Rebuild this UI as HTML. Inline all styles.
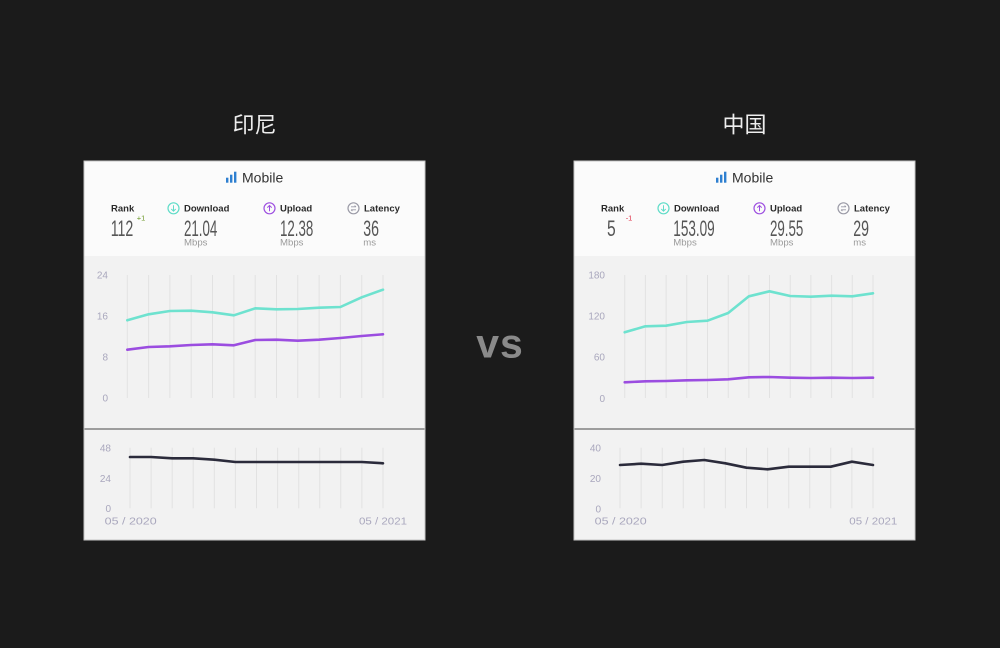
<!DOCTYPE html>
<html>
<head>
<meta charset="utf-8">
<style>
  html,body{margin:0;padding:0;background:#1b1b1b;}
  svg{display:block;}
  text{font-family:"Liberation Sans","Noto Sans CJK SC",sans-serif;}
</style>
</head>
<body>
<svg width="1000" height="648" viewBox="0 0 1000 648" xmlns="http://www.w3.org/2000/svg">
  <rect x="0" y="0" width="1000" height="648" fill="#1b1b1b"/>

  <!-- Titles -->
  <text x="254.5" y="132.5" font-size="22" fill="#eeeeee" text-anchor="middle" font-family="'Liberation Sans','Noto Sans CJK SC',sans-serif">印尼</text>
  <text x="744.5" y="132.5" font-size="22" fill="#eeeeee" text-anchor="middle" font-family="'Liberation Sans','Noto Sans CJK SC',sans-serif">中国</text>

  <!-- VS -->
  <text x="500" y="357.5" font-size="41" font-weight="bold" fill="#8a8a8a" text-anchor="middle" letter-spacing="1">vs</text>

  <!-- ================= LEFT CARD ================= -->
  <rect x="84" y="161" width="341" height="379" fill="#f2f2f2" stroke="#c4c4c4" stroke-width="1"/>
  <rect x="84.5" y="161.5" width="340" height="94.5" fill="#fbfbfb"/>
  <line x1="84.5" y1="429" x2="424.5" y2="429" stroke="#9d9d9d" stroke-width="2"/>

  <!-- header left -->
  <g id="hdrL">
    <rect x="226" y="177.7" width="2.4" height="5" fill="#2e7fd0"/>
    <rect x="230" y="174.7" width="2.4" height="8" fill="#2e7fd0"/>
    <rect x="234" y="171.7" width="2.4" height="11" fill="#2e7fd0"/>
    <text x="242" y="182.7" font-size="14" fill="#333">Mobile</text>

    <text x="111" y="211.7" font-size="9.5" font-weight="bold" fill="#2a2a2a">Rank</text>
    <circle cx="173.5" cy="208.3" r="5.5" fill="none" stroke="#5fdcc8" stroke-width="1.2"/>
    <path d="M173.5 205.3 V211 M171.3 209 L173.5 211.2 L175.7 209" fill="none" stroke="#5fdcc8" stroke-width="1"/>
    <text x="184" y="211.7" font-size="9.5" font-weight="bold" fill="#2a2a2a">Download</text>
    <circle cx="269.5" cy="208.3" r="5.5" fill="none" stroke="#9d4fe0" stroke-width="1.2"/>
    <path d="M269.5 211.3 V205.6 M267.3 207.6 L269.5 205.4 L271.7 207.6" fill="none" stroke="#9d4fe0" stroke-width="1"/>
    <text x="280" y="211.7" font-size="9.5" font-weight="bold" fill="#2a2a2a">Upload</text>
    <circle cx="353.5" cy="208.3" r="5.5" fill="none" stroke="#9a9aa6" stroke-width="1.2"/>
    <path d="M351 206.8 H356 M354.6 205.6 L356 206.8 M356 209.8 H351 M352.4 211 L351 209.8" fill="none" stroke="#9a9aa6" stroke-width="0.9"/>
    <text x="364" y="211.7" font-size="9.5" font-weight="bold" fill="#2a2a2a">Latency</text>
  </g>
  <text x="110.7" y="236" font-size="22" fill="#555" textLength="22.6" lengthAdjust="spacingAndGlyphs">112</text>
  <text x="136.7" y="220.5" font-size="7.5" fill="#6f9a2c">+1</text>
  <text x="184" y="236" font-size="22" fill="#555" textLength="33.3" lengthAdjust="spacingAndGlyphs">21.04</text>
  <text x="184" y="245.5" font-size="9.6" fill="#9a9a9a">Mbps</text>
  <text x="280" y="236" font-size="22" fill="#555" textLength="33.3" lengthAdjust="spacingAndGlyphs">12.38</text>
  <text x="280" y="245.5" font-size="9.6" fill="#9a9a9a">Mbps</text>
  <text x="363.3" y="236" font-size="22" fill="#555" textLength="15.7" lengthAdjust="spacingAndGlyphs">36</text>
  <text x="363.3" y="245.5" font-size="9.6" fill="#9a9a9a">ms</text>

  <!-- left upper chart grid -->
  <g stroke="#e2e2e2" stroke-width="1">
    <line x1="127.3" y1="275" x2="127.3" y2="398"/>
    <line x1="148.6" y1="275" x2="148.6" y2="398"/>
    <line x1="169.9" y1="275" x2="169.9" y2="398"/>
    <line x1="191.2" y1="275" x2="191.2" y2="398"/>
    <line x1="212.5" y1="275" x2="212.5" y2="398"/>
    <line x1="233.9" y1="275" x2="233.9" y2="398"/>
    <line x1="255.2" y1="275" x2="255.2" y2="398"/>
    <line x1="276.5" y1="275" x2="276.5" y2="398"/>
    <line x1="297.8" y1="275" x2="297.8" y2="398"/>
    <line x1="319.1" y1="275" x2="319.1" y2="398"/>
    <line x1="340.4" y1="275" x2="340.4" y2="398"/>
    <line x1="361.7" y1="275" x2="361.7" y2="398"/>
    <line x1="383" y1="275" x2="383" y2="398"/>
  </g>
  <g font-size="10" fill="#a9a7bd" text-anchor="end">
    <text x="108" y="278.6">24</text>
    <text x="108" y="319.6">16</text>
    <text x="108" y="360.6">8</text>
    <text x="108" y="401.6">0</text>
  </g>
  <polyline fill="none" stroke="#6ee2cf" stroke-width="2.6" stroke-linejoin="round" stroke-linecap="round"
    points="127.3,320.3 148.6,314.3 169.9,311 191.2,310.7 212.5,312.3 233.9,315.3 255.2,308.3 276.5,309.3 297.8,309 319.1,307.7 340.4,307 361.7,297.3 383,289.7"/>
  <polyline fill="none" stroke="#9b4de0" stroke-width="2.6" stroke-linejoin="round" stroke-linecap="round"
    points="127.3,349.7 148.6,347 169.9,346.3 191.2,345 212.5,344.3 233.9,345.3 255.2,340 276.5,339.7 297.8,340.7 319.1,339.7 340.4,338 361.7,336 383,334.3"/>

  <!-- left latency chart -->
  <g stroke="#e2e2e2" stroke-width="1">
    <line x1="130" y1="447.7" x2="130" y2="508.3"/>
    <line x1="151.1" y1="447.7" x2="151.1" y2="508.3"/>
    <line x1="172.2" y1="447.7" x2="172.2" y2="508.3"/>
    <line x1="193.2" y1="447.7" x2="193.2" y2="508.3"/>
    <line x1="214.3" y1="447.7" x2="214.3" y2="508.3"/>
    <line x1="235.4" y1="447.7" x2="235.4" y2="508.3"/>
    <line x1="256.5" y1="447.7" x2="256.5" y2="508.3"/>
    <line x1="277.6" y1="447.7" x2="277.6" y2="508.3"/>
    <line x1="298.7" y1="447.7" x2="298.7" y2="508.3"/>
    <line x1="319.7" y1="447.7" x2="319.7" y2="508.3"/>
    <line x1="340.8" y1="447.7" x2="340.8" y2="508.3"/>
    <line x1="361.9" y1="447.7" x2="361.9" y2="508.3"/>
    <line x1="383" y1="447.7" x2="383" y2="508.3"/>
  </g>
  <g font-size="10" fill="#a9a7bd" text-anchor="end">
    <text x="111" y="451.3">48</text>
    <text x="111" y="481.9">24</text>
    <text x="111" y="511.9">0</text>
  </g>
  <text x="104.7" y="524.5" font-size="10.5" fill="#a9a7bd" textLength="52" lengthAdjust="spacingAndGlyphs">05 / 2020</text>
  <text x="359" y="524.5" font-size="10.5" fill="#a9a7bd" textLength="48" lengthAdjust="spacingAndGlyphs">05 / 2021</text>
  <polyline fill="none" stroke="#2b2b3b" stroke-width="2.6" stroke-linejoin="round" stroke-linecap="round"
    points="130,457 151.1,457 172.2,458.3 193.2,458.3 214.3,459.7 235.4,462 256.5,462 277.6,462 298.7,462 319.7,462 340.8,462 361.9,462 383,463.3"/>

  <!-- ================= RIGHT CARD ================= -->
  <rect x="574" y="161" width="341" height="379" fill="#f2f2f2" stroke="#c4c4c4" stroke-width="1"/>
  <rect x="574.5" y="161.5" width="340" height="94.5" fill="#fbfbfb"/>
  <line x1="574.5" y1="429" x2="914.5" y2="429" stroke="#9d9d9d" stroke-width="2"/>

  <use href="#hdrL" transform="translate(490,0)"/>
  <text x="607" y="236" font-size="22" fill="#555" textLength="8.7" lengthAdjust="spacingAndGlyphs">5</text>
  <text x="625.7" y="220.5" font-size="7.5" fill="#e0334a">-1</text>
  <text x="673.3" y="236" font-size="22" fill="#555" textLength="41.4" lengthAdjust="spacingAndGlyphs">153.09</text>
  <text x="673.3" y="245.5" font-size="9.6" fill="#9a9a9a">Mbps</text>
  <text x="770" y="236" font-size="22" fill="#555" textLength="33.3" lengthAdjust="spacingAndGlyphs">29.55</text>
  <text x="770" y="245.5" font-size="9.6" fill="#9a9a9a">Mbps</text>
  <text x="853.3" y="236" font-size="22" fill="#555" textLength="15.7" lengthAdjust="spacingAndGlyphs">29</text>
  <text x="853.3" y="245.5" font-size="9.6" fill="#9a9a9a">ms</text>

  <!-- right upper chart grid -->
  <g stroke="#e2e2e2" stroke-width="1">
    <line x1="624.7" y1="275" x2="624.7" y2="398"/>
    <line x1="645.4" y1="275" x2="645.4" y2="398"/>
    <line x1="666.1" y1="275" x2="666.1" y2="398"/>
    <line x1="686.8" y1="275" x2="686.8" y2="398"/>
    <line x1="707.5" y1="275" x2="707.5" y2="398"/>
    <line x1="728.2" y1="275" x2="728.2" y2="398"/>
    <line x1="748.9" y1="275" x2="748.9" y2="398"/>
    <line x1="769.5" y1="275" x2="769.5" y2="398"/>
    <line x1="790.2" y1="275" x2="790.2" y2="398"/>
    <line x1="810.9" y1="275" x2="810.9" y2="398"/>
    <line x1="831.6" y1="275" x2="831.6" y2="398"/>
    <line x1="852.3" y1="275" x2="852.3" y2="398"/>
    <line x1="873" y1="275" x2="873" y2="398"/>
  </g>
  <g font-size="10" fill="#a9a7bd" text-anchor="end">
    <text x="605" y="278.6">180</text>
    <text x="605" y="319.6">120</text>
    <text x="605" y="360.3">60</text>
    <text x="605" y="401.9">0</text>
  </g>
  <polyline fill="none" stroke="#6ee2cf" stroke-width="2.6" stroke-linejoin="round" stroke-linecap="round"
    points="624.7,332.3 645.4,326.3 666.1,325.7 686.8,322 707.5,320.7 728.2,313 748.9,296.3 769.5,291.3 790.2,296 810.9,296.7 831.6,295.7 852.3,296.3 873,293.3"/>
  <polyline fill="none" stroke="#9b4de0" stroke-width="2.6" stroke-linejoin="round" stroke-linecap="round"
    points="624.7,382.3 645.4,381.3 666.1,381 686.8,380.3 707.5,380 728.2,379.3 748.9,377.3 769.5,377 790.2,377.7 810.9,378 831.6,377.7 852.3,378 873,377.7"/>

  <!-- right latency chart -->
  <g stroke="#e2e2e2" stroke-width="1">
    <line x1="620" y1="447.7" x2="620" y2="508.3"/>
    <line x1="641.1" y1="447.7" x2="641.1" y2="508.3"/>
    <line x1="662.2" y1="447.7" x2="662.2" y2="508.3"/>
    <line x1="683.2" y1="447.7" x2="683.2" y2="508.3"/>
    <line x1="704.3" y1="447.7" x2="704.3" y2="508.3"/>
    <line x1="725.4" y1="447.7" x2="725.4" y2="508.3"/>
    <line x1="746.5" y1="447.7" x2="746.5" y2="508.3"/>
    <line x1="767.6" y1="447.7" x2="767.6" y2="508.3"/>
    <line x1="788.7" y1="447.7" x2="788.7" y2="508.3"/>
    <line x1="809.7" y1="447.7" x2="809.7" y2="508.3"/>
    <line x1="830.8" y1="447.7" x2="830.8" y2="508.3"/>
    <line x1="851.9" y1="447.7" x2="851.9" y2="508.3"/>
    <line x1="873" y1="447.7" x2="873" y2="508.3"/>
  </g>
  <g font-size="10" fill="#a9a7bd" text-anchor="end">
    <text x="601" y="451.3">40</text>
    <text x="601" y="481.9">20</text>
    <text x="601" y="512.5">0</text>
  </g>
  <text x="594.7" y="524.5" font-size="10.5" fill="#a9a7bd" textLength="52" lengthAdjust="spacingAndGlyphs">05 / 2020</text>
  <text x="849.3" y="524.5" font-size="10.5" fill="#a9a7bd" textLength="48" lengthAdjust="spacingAndGlyphs">05 / 2021</text>
  <polyline fill="none" stroke="#2b2b3b" stroke-width="2.6" stroke-linejoin="round" stroke-linecap="round"
    points="620,465 641.1,463.7 662.2,465 683.2,461.7 704.3,460 725.4,463.3 746.5,467.7 767.6,469.3 788.7,466.7 809.7,466.7 830.8,466.7 851.9,461.7 873,465"/>
</svg>
</body>
</html>
